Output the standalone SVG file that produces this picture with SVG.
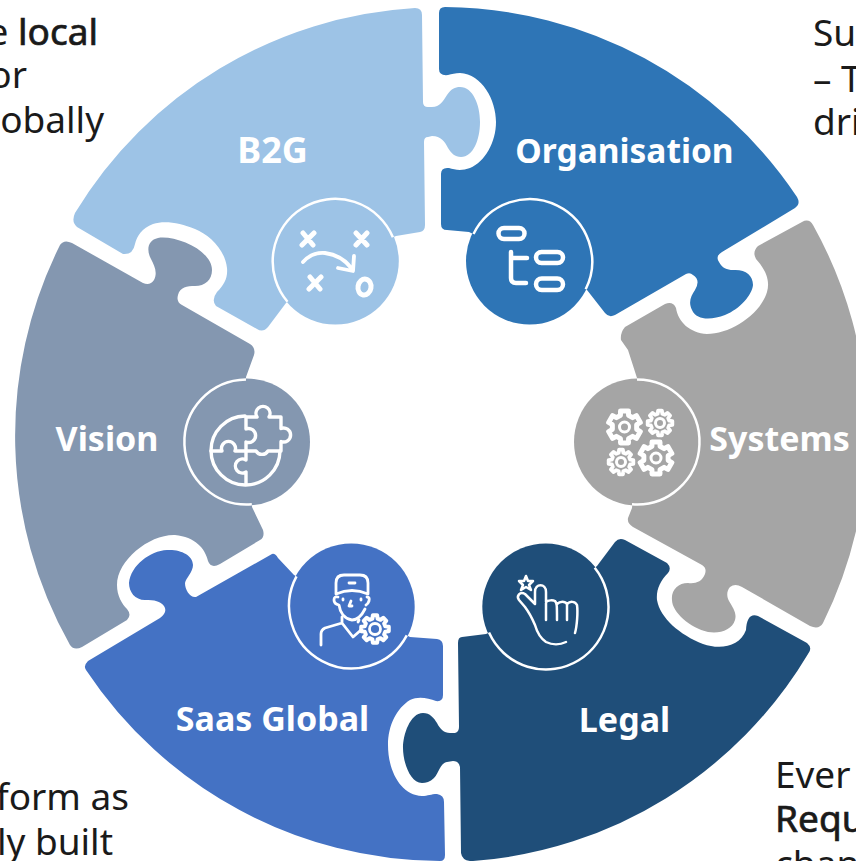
<svg xmlns="http://www.w3.org/2000/svg" xmlns:xlink="http://www.w3.org/1999/xlink" width="856" height="861" viewBox="0 0 856 861">
<style>
.lab{font-family:"Noto Sans","Open Sans","Liberation Sans",sans-serif;font-weight:700;font-size:34px;fill:#fff;text-anchor:middle}
.txt{font-family:"Noto Sans","Open Sans","Liberation Sans",sans-serif;font-size:37px;fill:#1a1a1a}
.em{stroke:#1a1a1a;stroke-width:.7}
.ring{fill:none;stroke:#fff;stroke-width:2.500}
.ic{fill:none;stroke:#fff;stroke-linecap:round;stroke-linejoin:round}
.ns{vector-effect:non-scaling-stroke}
</style>
<defs>
<path id="g8" d="M7.37-1.84L9.88-1.56L9.88 1.56L7.37 1.84L6.51 3.91L8.09 5.88L5.88 8.09L3.91 6.51L1.84 7.37L1.56 9.88L-1.56 9.88L-1.84 7.37L-3.91 6.51L-5.88 8.09L-8.09 5.88L-6.51 3.91L-7.37 1.84L-9.88 1.56L-9.88-1.56L-7.37-1.84L-6.51-3.91L-8.09-5.88L-5.88-8.09L-3.91-6.51L-1.84-7.37L-1.56-9.88L1.56-9.88L1.84-7.37L3.91-6.51L5.88-8.09L8.09-5.88L6.51-3.91Z"/>
<path id="g6" d="M7.36 1.43L9.61 2.76L7.19 6.95L4.92 5.66L2.44 7.09L2.42 9.7L-2.42 9.7L-2.44 7.09L-4.92 5.66L-7.19 6.95L-9.61 2.76L-7.36 1.43L-7.36-1.43L-9.61-2.76L-7.19-6.95L-4.92-5.66L-2.44-7.09L-2.42-9.7L2.42-9.7L2.44-7.09L4.92-5.66L7.19-6.95L9.61-2.76L7.36-1.43Z"/>
</defs>
<rect width="856" height="861" fill="#fff"/>
<g id="text-blocks">
<text class="txt" x="98" y="45" text-anchor="end">e <tspan class="em">local</tspan></text>
<text class="txt" x="27" y="88" text-anchor="end">or</text>
<text class="txt" x="104" y="133" text-anchor="end">obally</text>
<text class="txt" x="813" y="46">Su</text>
<text class="txt" x="813" y="92">– T</text>
<text class="txt" x="813" y="135">dri</text>
<text class="txt" x="129" y="810" text-anchor="end">form as</text>
<text class="txt" x="113" y="855" text-anchor="end">ly built</text>
<text class="txt" x="775" y="788">Ever</text>
<text class="txt em" x="775" y="832">Requ</text>
<text class="txt" x="775" y="877">chan</text>
</g>
<g id="node-b2g">
<path fill="#9DC3E6" d="M415 8Q422 8 422 15L423 102Q423 107 428 107L432 107C440 107 443 101 447 95C451 89 455 87 460 87C473 87 480 105 480 122C480 140 473 157 461 157C455 157 451 153 448 148C445 142 441 136 432 136L428 137Q424 137 424 142L425 225Q425 231 420 232L396 236L335 261L286 303L268 327Q263 333 257 329L216 306Q211 300 217 292C224 285 228 278 227 268C225 250 210 235 195 229C180 223 165 220 153 224C142 228 137 236 135 244Q133 255 123 254L77 227Q71 222 75 213A427 427 0 0 1 415 8Z"/>
<circle cx="335.300" cy="261" r="63.500" fill="#9DC3E6"/>
<path class="ring" d="M287.500 301.700A62.500 62.500 0 1 1 392.900 237.300"/>
<text class="lab" x="272.500" y="163" style="font-size:36px">B2G</text>
<g class="ic" stroke-width="5">
<path d="M303 233L313 245M314 233L302 245M356 245L367 233M356 233L367 245M310 277L320 289M321 277L309 289"/>
<ellipse cx="364.500" cy="287" rx="6.500" ry="8" transform="rotate(10 364 287)"/>
</g>
<path class="ic" stroke-width="3.800" d="M303 262Q312 252 325 253Q342 255 352 269M338 268L353 271L354 256"/>
</g>
<g id="node-organisation">
<path fill="#2E75B6" d="M445 7A427 427 0 0 1 797 197Q801 204 795 208L722 252Q715 256 719 262C722 268 727 270 733 270C745 269 753 275 753 285C752 295 740 309 725 315C712 320 697 321 692 310C688 302 691 296 695 290Q701 280 693 275Q690 272 686 274L615 315Q609 318 605 313L587 290L530 261L469 232L447 230Q441 230 441 224L441 174Q441 167 449 168C455 170 462 171 470 168C485 162 496 142 496 122C496 100 482 74 460 73C455 73 452 74 448 75Q439 76 439 69L439 13Q439 7 445 7Z"/>
<circle cx="529.500" cy="261" r="63.500" fill="#2E75B6"/>
<path class="ring" d="M473.500 234A62.500 62.500 0 1 1 585.700 289.300"/>
<text class="lab" x="624.500" y="163" style="font-size:33.500px">Organisation</text>
<g class="ic" stroke-width="4.500">
<rect x="498.500" y="228" width="26" height="11" rx="5.500"/>
<rect x="536" y="252" width="27" height="11" rx="5.500"/>
<rect x="536" y="278.500" width="27" height="11.500" rx="5.750"/>
<path d="M511 252L511 278Q511 283 516 283L526 283M511 258L527 258"/>
</g>
</g>
<g id="node-systems">
<path fill="#A5A5A5" d="M802 222Q809 218 813 225A427 427 0 0 1 823 623Q819 630 810 626L742 587Q735 583 730 587C726 592 727 597 729 601C733 608 737 613 735 620C732 630 720 634 708 632C690 628 672 612 672 600C671 590 678 583 688 583C695 584 702 582 705 574Q707 568 702 565L633 527Q627 523 628 518L632 508L637 442L637 378L628 350L621 340Q620 333 625 327L665 304Q673 301 676 308C678 322 690 333 707 334C730 334 760 315 767 292C771 278 763 267 756 259Q752 252 758 246Z"/>
<circle cx="637.500" cy="442" r="63.500" fill="#A5A5A5"/>
<path class="ring" d="M637 379.500A62.500 62.500 0 1 1 632 504.300"/>
<text class="lab" x="779.500" y="451">Systems</text>
<g class="ic" stroke-width="3">
<use xlink:href="#g6" href="#g6" class="ns" transform="translate(624.500 427) scale(1.65)"/>
<use xlink:href="#g6" href="#g6" class="ns" transform="translate(656 458) scale(1.65)"/>
<circle cx="624.500" cy="427" r="5"/>
<circle cx="656" cy="458" r="5"/>
<use xlink:href="#g8" href="#g8" class="ns" transform="translate(660 423) scale(1.25)"/>
<use xlink:href="#g8" href="#g8" class="ns" transform="translate(621 462) scale(1.25)"/>
<circle cx="660" cy="423" r="4.500"/>
<circle cx="621" cy="462" r="4.500"/>
</g>
</g>
<g id="node-legal">
<path fill="#1F4E79" d="M625 540L667 563Q672 568 668 573C660 581 656 590 657 600C660 618 680 635 703 644C720 650 740 647 746 630Q747 612 758 616L807 643Q813 648 808 654A427 427 0 0 1 473 861L470 861Q462 860 461 853L460 767Q459 761 453 761L447 762C440 763 439 773 434 778C430 782 426 783 422 783C410 783 403 762 403 748C403 735 410 713 423 713C430 713 434 718 437 723C440 729 444 733 450 733L455 733Q459 732 459 727L458 643Q458 637 462 637L486 634L546 607L597 566L615 542Q619 537 625 540Z"/>
<circle cx="545.800" cy="607" r="63.500" fill="#1F4E79"/>
<path class="ring" d="M594.700 567.800A62.500 62.500 0 1 1 489 632.600"/>
<text class="lab" x="624.500" y="732">Legal</text>
<g class="ic" stroke-width="2.500">
<path d="M526 576L528 581L533 581L529 585L531 590L526 587L521 590L523 585L519 581L524 581Z"/>
<path d="M566 642C560 645 552 645 546 642C540 638 537 632 535 625C532 618 528 611 525 607L519 600C516 596 520 591 525 594L535 604L535 592C535 583 546 583 546 592L546 620M546 602C548 600 553 600 555 601C557 603 557 605 557 620M557 604C560 601 565 601 567 604L567 620M567 604C570 601 575 601 577 605C578 612 577 626 575 633"/>
</g>
</g>
<g id="node-saas-global">
<path fill="#4472C4" d="M272 554Q275 553 278 558L294 575L351 607L410 637L437 639Q443 640 443 646L443 695Q443 702 436 701C428 698 418 696 410 700C397 708 388 725 388 745C388 770 400 795 422 796C428 796 431 794 437 794Q444 795 444 802L445 855Q445 861 440 861A427 427 0 0 1 86 670Q83 666 88 661L160 618Q168 612 164 606C160 601 155 600 145 600C135 600 129 592 129 583C131 565 150 551 167 550C180 549 193 555 193 565C193 572 186 578 185 583C185 590 190 598 196 597Z"/>
<circle cx="351.200" cy="607" r="63.500" fill="#4472C4"/>
<path class="ring" d="M406.800 635.400A62.500 62.500 0 1 1 296.500 576.400"/>
<text class="lab" x="272.500" y="731">Saas Global</text>
<g class="ic" stroke-width="2.800">
<path d="M336 594L336 583Q336 575 344 575L360 575Q368 575 368 583L368 594Q352 587 336 594Z"/>
<path d="M349 583L355 583"/>
<path d="M338 597Q334 596 334 600Q334 604 339 605C340 612 344 619 352 620C357 620 361 617 365 609M367 597Q370 597 369 601Q368 604 366 605"/>
<path d="M343 599L343 600M361 599L361 600M351 601L349 606L352 606"/>
<path d="M321 645L321 634Q321 630 325 628L342 623L342 617M342 623L353 637L361 630M359 620L358 622"/>
</g>
<g class="ic" stroke-width="2.800">
<use xlink:href="#g8" href="#g8" class="ns" transform="translate(375 629) scale(1.4)"/>
<circle cx="375" cy="629" r="5.500"/>
</g>
</g>
<g id="node-vision">
<path fill="#8497B0" d="M70 645A427 427 0 0 1 60 245Q64 239 72 243L143 283Q150 286 154 280C158 272 154 265 151 259C146 250 148 240 158 238C175 235 212 250 212 270C212 280 205 286 195 286C187 286 180 287 178 295Q176 302 182 305L250 344Q256 348 254 355L246 377L247 442L252 507L263 530Q265 537 260 540L220 564Q211 569 208 561C205 548 195 537 175 535C150 534 117 560 117 585C117 596 122 604 127 609Q132 615 127 620L82 647Q74 651 70 645Z"/>
<circle cx="246.500" cy="442" r="63.500" fill="#8497B0"/>
<path class="ring" d="M251.800 504.300A62.500 62.500 0 1 1 246 379.500"/>
<text class="lab" x="107" y="451">Vision</text>
<g class="ic" stroke-width="3.400">
<path d="M245 416A34.500 34.500 0 1 0 280 451"/>
<path d="M211 451L222 451A7 7 0 1 1 235 451L246 451M254 451L256 451A7 7 0 0 0 268 451L281 451L281 441.500A7 7 0 1 0 281 428.500L281 417L269 417A7 7 0 1 0 257 417L246 417L246 429A7 7 0 1 1 246 442L246 460A7 7 0 1 0 246 472L246 484M246 451L254 451"/>
</g>
</g>
</svg>
